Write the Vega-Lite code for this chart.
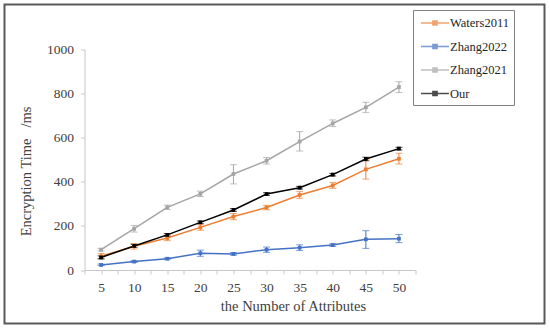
{
  "$schema": "https://vega.github.io/schema/vega-lite/v6.json",
  "autosize": {"type": "none"},
  "padding": {"left": 4.5, "top": 4.5, "right": 5.5, "bottom": 6.5},
  "width": 540,
  "height": 319,
  "background": "white",
  "config": {
    "view": {"stroke": "#595959", "strokeWidth": 2},
    "font": "Liberation Serif",
    "axis": {
      "grid": false,
      "domainColor": "#c8c8c8",
      "tickColor": "#c8c8c8",
      "labelFont": "Liberation Serif",
      "labelFontSize": 13.5,
      "labelColor": "#404040",
      "titleFont": "Liberation Serif",
      "titleFontSize": 14.5,
      "titleFontWeight": "normal",
      "titleColor": "#404040"
    },
    "legend": {"labelFont": "Liberation Serif"}
  },
  "data": {
    "values": [
      {"x": 5, "s": "Waters2011", "v": 62, "lo": 52, "hi": 75},
      {"x": 10, "s": "Waters2011", "v": 108, "lo": 95, "hi": 120},
      {"x": 15, "s": "Waters2011", "v": 145, "lo": 133, "hi": 157},
      {"x": 20, "s": "Waters2011", "v": 193, "lo": 180, "hi": 207},
      {"x": 25, "s": "Waters2011", "v": 242, "lo": 228, "hi": 256},
      {"x": 30, "s": "Waters2011", "v": 283, "lo": 273, "hi": 293},
      {"x": 35, "s": "Waters2011", "v": 340, "lo": 325, "hi": 355},
      {"x": 40, "s": "Waters2011", "v": 383, "lo": 370, "hi": 396},
      {"x": 45, "s": "Waters2011", "v": 456, "lo": 412, "hi": 500},
      {"x": 50, "s": "Waters2011", "v": 504, "lo": 480, "hi": 529},
      {"x": 5, "s": "Zhang2022", "v": 23, "lo": 20, "hi": 27},
      {"x": 10, "s": "Zhang2022", "v": 38, "lo": 34, "hi": 42},
      {"x": 15, "s": "Zhang2022", "v": 51, "lo": 47, "hi": 55},
      {"x": 20, "s": "Zhang2022", "v": 76, "lo": 62, "hi": 90},
      {"x": 25, "s": "Zhang2022", "v": 73, "lo": 67, "hi": 79},
      {"x": 30, "s": "Zhang2022", "v": 92, "lo": 80, "hi": 104},
      {"x": 35, "s": "Zhang2022", "v": 101, "lo": 88, "hi": 114},
      {"x": 40, "s": "Zhang2022", "v": 113, "lo": 107, "hi": 119},
      {"x": 45, "s": "Zhang2022", "v": 139, "lo": 98, "hi": 178},
      {"x": 50, "s": "Zhang2022", "v": 142, "lo": 124, "hi": 161},
      {"x": 5, "s": "Zhang2021", "v": 92, "lo": 86, "hi": 98},
      {"x": 10, "s": "Zhang2021", "v": 187, "lo": 172, "hi": 202},
      {"x": 15, "s": "Zhang2021", "v": 284, "lo": 274, "hi": 294},
      {"x": 20, "s": "Zhang2021", "v": 345, "lo": 333, "hi": 357},
      {"x": 25, "s": "Zhang2021", "v": 435, "lo": 390, "hi": 477},
      {"x": 30, "s": "Zhang2021", "v": 495, "lo": 480, "hi": 510},
      {"x": 35, "s": "Zhang2021", "v": 582, "lo": 539, "hi": 627},
      {"x": 40, "s": "Zhang2021", "v": 664, "lo": 650, "hi": 680},
      {"x": 45, "s": "Zhang2021", "v": 737, "lo": 714, "hi": 760},
      {"x": 50, "s": "Zhang2021", "v": 829, "lo": 804, "hi": 853},
      {"x": 5, "s": "Our", "v": 57, "lo": 50, "hi": 64},
      {"x": 10, "s": "Our", "v": 109, "lo": 103, "hi": 116},
      {"x": 15, "s": "Our", "v": 159, "lo": 153, "hi": 165},
      {"x": 20, "s": "Our", "v": 216, "lo": 210, "hi": 222},
      {"x": 25, "s": "Our", "v": 272, "lo": 266, "hi": 278},
      {"x": 30, "s": "Our", "v": 344, "lo": 338, "hi": 350},
      {"x": 35, "s": "Our", "v": 373, "lo": 367, "hi": 379},
      {"x": 40, "s": "Our", "v": 432, "lo": 426, "hi": 438},
      {"x": 45, "s": "Our", "v": 503, "lo": 495, "hi": 511},
      {"x": 50, "s": "Our", "v": 550, "lo": 544, "hi": 556}
    ]
  },
  "encoding": {
    "x": {
      "field": "x",
      "type": "quantitative",
      "scale": {"domain": [2.5, 52.5], "range": [80, 411], "nice": false, "zero": false},
      "axis": {
        "title": "the Number of Attributes",
        "offset": -53.5,
        "values": [2.5, 5, 7.5, 10, 12.5, 15, 17.5, 20, 22.5, 25, 27.5, 30, 32.5, 35, 37.5, 40, 42.5, 45, 47.5, 50, 52.5],
        "labelExpr": "datum.value % 5 === 0 ? datum.label : ''",
        "labelFont": "Liberation Serif",
        "tickSize": 4,
        "labelPadding": 6,
        "labelFlush": false,
        "labelOverlap": false,
        "titleX": 288.5,
        "titlePadding": 6
      }
    },
    "color": {
      "field": "s",
      "type": "nominal",
      "scale": {
        "domain": ["Waters2011", "Zhang2022", "Zhang2021", "Our"],
        "range": ["#ED7D31", "#4472C4", "#A5A5A5", "#000000"]
      },
      "legend": {
        "title": null,
        "orient": "none",
        "legendX": 408.5,
        "legendY": 5.5,
        "padding": 5,
        "strokeColor": "#7f7f7f",
        "fillColor": "white",
        "symbolType": "M-2,0H2M-0.3,-0.3H0.3V0.3H-0.3Z",
        "symbolSize": 196,
        "symbolOffset": 9,
        "symbolStrokeWidth": 1.5,
        "labelOffset": 7,
        "rowPadding": 8.5,
        "labelFont": "Liberation Serif",
        "labelFontSize": 12.5,
        "labelColor": "#262626"
      }
    }
  },
  "layer": [
    {
      "mark": {"type": "errorbar", "ticks": {"size": 7}, "thickness": 1},
      "encoding": {
        "y": {
          "field": "lo",
          "type": "quantitative",
          "scale": {"domain": [0, 1000], "range": [265.5, 44.8], "nice": false},
          "title": "Encryption Time\u00a0\u00a0\u00a0/ms"
        },
        "y2": {"field": "hi"}
      }
    },
    {
      "mark": {"type": "line", "strokeWidth": 1.5},
      "encoding": {
        "y": {
          "field": "v",
          "type": "quantitative",
          "scale": {"domain": [0, 1000], "range": [265.5, 44.8], "nice": false},
          "title": "Encryption Time\u00a0\u00a0\u00a0/ms",
          "axis": {
            "offset": -80,
            "values": [0, 200, 400, 600, 800, 1000],
            "format": "d",
            "labelFont": "Liberation Serif",
            "tickSize": 4,
            "labelPadding": 7,
            "titleX": -51,
            "titleY": 166.5
          }
        }
      }
    },
    {
      "mark": {"type": "point", "shape": "square", "filled": true, "size": 14, "opacity": 1},
      "encoding": {
        "y": {"field": "v", "type": "quantitative", "title": "Encryption Time\u00a0\u00a0\u00a0/ms"}
      }
    }
  ]
}
